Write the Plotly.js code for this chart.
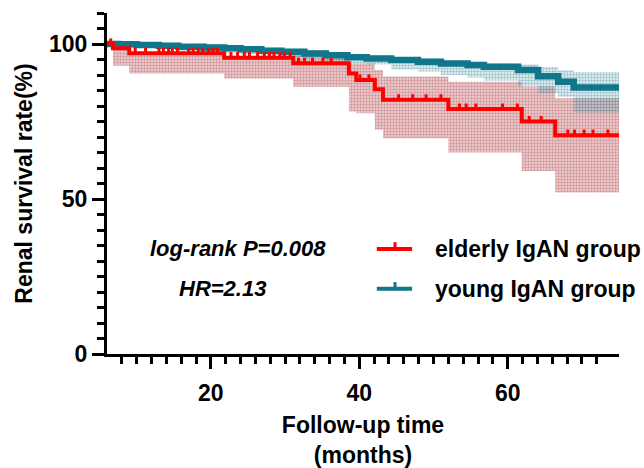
<!DOCTYPE html>
<html>
<head>
<meta charset="utf-8">
<script src="https://cdn.plot.ly/plotly-3.0.1.min.js"></script>
<style>html,body{margin:0;padding:0;background:#fff;}#chart{width:644px;height:468px;}</style>
</head>
<body>
<div id="chart"></div>
<script>
// ---- Data (months, % survival) ----
const elderlyTime  = [6, 6.8, 9.0, 21.8, 31.1, 38.6, 39.6, 42.1, 43.2, 52.0, 61.9, 66.4, 75];
const elderlySurv  = [100, 98.6, 97.0, 95.6, 93.8, 90.5, 88.4, 85.4, 82.0, 79.0, 75.0, 70.6, 70.6];
const elderlyLower = [100, 93.0, 90.5, 88.9, 86.2, 78.2, 77.7, 72.3, 69.6, 65.0, 59.0, 52.1, 52.1];
const elderlyUpper = [100, 98.6, 97.0, 95.6, 97.0, 93.8, 93.8, 91.6, 89.5, 87.8, 86.3, 82.5, 82.5];
const elderlyCensor = [6.5, 9.8, 11.2, 13.0, 13.6, 14.3, 14.8, 15.5, 17.0, 17.6, 18.3, 18.9, 19.7, 20.3, 20.9,
  22.7, 23.6, 24.5, 25.2, 26.3, 27.2, 27.9, 28.5, 29.3, 29.9, 30.7,
  31.8, 32.6, 33.7, 35.1, 36.2, 40.1, 41.3, 45.3, 47.2, 49.0, 51.0,
  53.5, 54.4, 55.7, 59.3, 61.3, 62.9, 64.5, 68.1, 69.0, 70.3, 71.5, 73.5];

const youngTime  = [6, 7.5, 10, 13, 15.6, 19, 21.8, 24, 26.8, 29.5, 32.6, 35.5, 38.4, 41, 44.3, 47.9, 51, 54.6, 56.8, 61.4, 64.1, 66.8, 68.9, 75];
const youngSurv  = [100, 99.9, 99.7, 99.4, 99.1, 98.9, 98.6, 98.3, 97.8, 97.5, 96.9, 96.4, 95.7, 95.3, 94.8, 94.3, 93.7, 93.2, 92.7, 91.6, 89.6, 87.8, 86.0, 86.0];
const youngLower = [100, 99.3, 98.9, 98.4, 97.9, 97.6, 97.2, 96.8, 96.3, 95.9, 95.2, 94.6, 93.9, 93.4, 91.8, 91.1, 90.0, 89.2, 88.2, 86.4, 84.2, 83.0, 77.8, 77.8];
const youngUpper = [100, 100, 100, 100, 100, 99.9, 99.6, 99.3, 98.8, 98.5, 97.9, 97.4, 96.7, 96.3, 95.8, 95.3, 94.7, 94.2, 93.7, 93.4, 92.6, 91.5, 91.0, 91.0];

const xMinorTicks = [8,10,12,14,16,18,22,24,26,28,30,32,34,36,38,42,44,46,48,50,52,54,56,58,62,64,66,68,70,72];

const seriesNames = ['elderly IgAN group', 'young IgAN group'];
const statText = ['log-rank P=0.008', 'HR=2.13'];

// ---- Styles ----
const RED = '#ff0000';
const TEAL = '#10768a';
const FONT = 'Liberation Sans, Arial, sans-serif';

function stepAt(times, vals, t) {
  let v = vals[0];
  for (let i = 0; i < times.length; i++) { if (times[i] <= t) v = vals[i]; }
  return v;
}
function censorTrace(censor, times, vals, color) {
  const x = [], y = [];
  censor.forEach(t => { const s = stepAt(times, vals, t); x.push(t, t, null); y.push(s, s + 1.8, null); });
  return {x, y, mode: 'lines', line: {color, width: 3}, showlegend: false, hoverinfo: 'skip'};
}

const traces = [
  {x: elderlyTime, y: elderlyLower, mode: 'lines', line: {shape: 'hv', width: 0}, showlegend: false, hoverinfo: 'skip'},
  {x: elderlyTime, y: elderlyUpper, mode: 'lines', line: {shape: 'hv', width: 0}, fill: 'tonexty',
   fillcolor: 'rgba(226,184,186,0.8)',
   fillpattern: {shape: '+', size: 3, solidity: 0.35, fgcolor: 'rgba(190,110,115,0.6)', bgcolor: 'rgba(226,184,186,0.8)'},
   showlegend: false, hoverinfo: 'skip'},
  {x: youngTime, y: youngLower, mode: 'lines', line: {shape: 'hv', width: 0}, showlegend: false, hoverinfo: 'skip'},
  {x: youngTime, y: youngUpper, mode: 'lines', line: {shape: 'hv', width: 0}, fill: 'tonexty',
   fillcolor: 'rgba(60,150,165,0.28)',
   fillpattern: {shape: '+', size: 3, solidity: 0.35, fgcolor: 'rgba(60,130,145,0.45)', bgcolor: 'rgba(80,160,175,0.22)'},
   showlegend: false, hoverinfo: 'skip'},
  {x: youngTime, y: youngSurv, mode: 'lines', name: seriesNames[1], line: {shape: 'hv', color: TEAL, width: 6.5}, showlegend: false},
  {x: elderlyTime, y: elderlySurv, mode: 'lines', name: seriesNames[0], line: {shape: 'hv', color: RED, width: 4}, showlegend: false},
  censorTrace(elderlyCensor, elderlyTime, elderlySurv, RED)
];

const tickFont = {family: FONT, size: 23, color: '#000', weight: 'bold'};

const layout = {
  width: 644, height: 468,
  margin: {l: 107, r: 25, t: 13, b: 114},
  paper_bgcolor: '#fff', plot_bgcolor: '#fff',
  showlegend: false,
  xaxis: {
    range: [6, 75], showgrid: false, zeroline: false,
    showline: true, linecolor: '#000', linewidth: 3,
    ticks: 'outside', ticklen: 12, tickwidth: 3, tickcolor: '#000',
    tickmode: 'linear', tick0: 0, dtick: 20, ticklabelstandoff: 4,
    minor: {tickmode: 'array', tickvals: xMinorTicks, ticks: 'outside', ticklen: 7, tickwidth: 3, tickcolor: '#000', showgrid: false},
    tickfont: tickFont,
    title: {text: 'Follow-up time<br>(months)', font: tickFont, standoff: 15}
  },
  yaxis: {
    range: [0, 110], showgrid: false, zeroline: false,
    showline: true, linecolor: '#000', linewidth: 3,
    ticks: 'outside', ticklen: 12, tickwidth: 3, tickcolor: '#000',
    tickmode: 'linear', tick0: 0, dtick: 50,
    minor: {dtick: 5, ticks: 'outside', ticklen: 7, tickwidth: 3, tickcolor: '#000', showgrid: false},
    tickfont: tickFont,
    title: {text: 'Renal survival rate(%)', font: tickFont, standoff: 10}
  },
  shapes: [
    {type: 'line', xref: 'paper', yref: 'paper', x0: 0.527, x1: 0.596, y0: 0.308, y1: 0.308, line: {color: RED, width: 4}},
    {type: 'line', xref: 'paper', yref: 'paper', x0: 0.5625, x1: 0.5625, y0: 0.308, y1: 0.328, line: {color: RED, width: 3}},
    {type: 'line', xref: 'paper', yref: 'paper', x0: 0.527, x1: 0.596, y0: 0.191, y1: 0.191, line: {color: TEAL, width: 4}},
    {type: 'line', xref: 'paper', yref: 'paper', x0: 0.5625, x1: 0.5625, y0: 0.191, y1: 0.211, line: {color: TEAL, width: 3}}
  ],
  annotations: [
    {xref: 'paper', yref: 'paper', x: 0.637, y: 0.308, xanchor: 'left', yanchor: 'middle', showarrow: false,
     text: '<b>' + seriesNames[0] + '</b>', font: {family: FONT, size: 23, color: '#000'}},
    {xref: 'paper', yref: 'paper', x: 0.637, y: 0.191, xanchor: 'left', yanchor: 'middle', showarrow: false,
     text: '<b>' + seriesNames[1] + '</b>', font: {family: FONT, size: 23, color: '#000'}},
    {xref: 'paper', yref: 'paper', x: 0.080, y: 0.308, xanchor: 'left', yanchor: 'middle', showarrow: false,
     text: '<b><i>' + statText[0] + '</i></b>', font: {family: FONT, size: 22, color: '#000'}},
    {xref: 'paper', yref: 'paper', x: 0.137, y: 0.191, xanchor: 'left', yanchor: 'middle', showarrow: false,
     text: '<b><i>' + statText[1] + '</i></b>', font: {family: FONT, size: 22, color: '#000'}}
  ]
};

Plotly.newPlot('chart', traces, layout, {staticPlot: true, displayModeBar: false});
</script>
</body>
</html>
